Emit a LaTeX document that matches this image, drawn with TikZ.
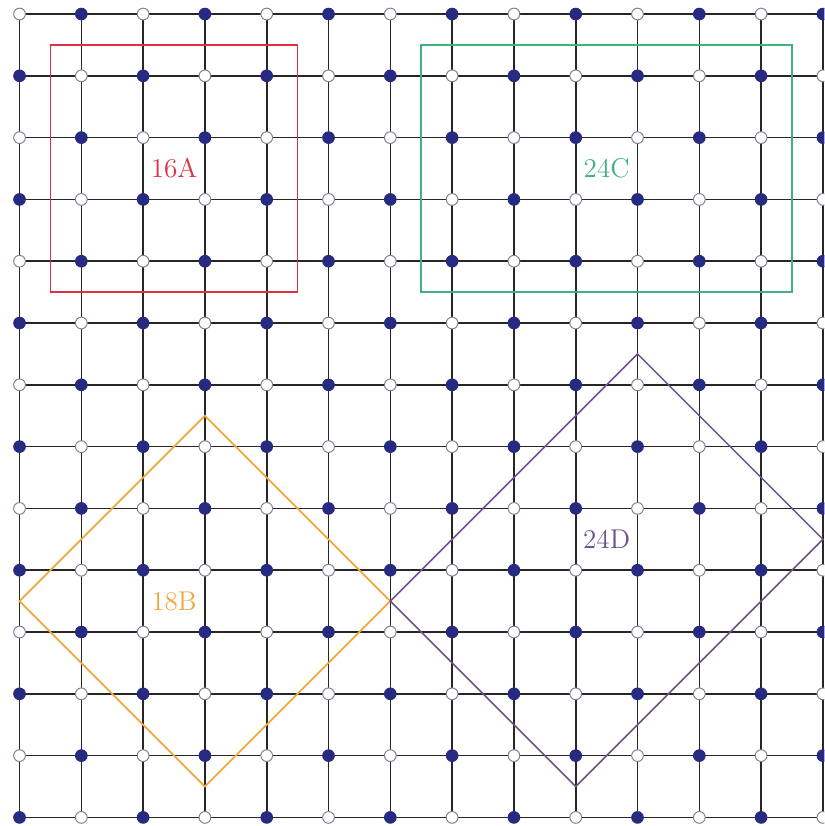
\documentclass[tikz,border=0pt]{standalone}
\usepackage{tikz}
\usepackage{xcolor}

\definecolor{navy}{RGB}{38,42,128}
\definecolor{ringgray}{RGB}{125,128,150}
\definecolor{cred}{RGB}{222,48,68}
\definecolor{cgreen}{RGB}{64,178,128}
\definecolor{corange}{RGB}{238,168,64}
\definecolor{cpurple}{RGB}{108,82,138}

\begin{document}
\begin{tikzpicture}[x=1cm, y=-1cm, font=\fontsize{12.5}{15}\selectfont,
  gridline/.style={black!85, line width=0.75pt},
  dot1/.style={circle, fill=navy, draw=navy, inner sep=0pt, minimum size=0.19cm},
  dot0/.style={circle, fill=white, draw=ringgray, line width=0.45pt, inner sep=0pt, minimum size=0.19cm}]
  \useasboundingbox (-0.316,-0.227) rectangle (13.023,13.139);
  \clip (-0.316,-0.227) rectangle (13.023,13.139);
  % lattice
  \foreach \k in {0,...,13} {
    \draw[gridline] (\k,0) -- (\k,13);
    \draw[gridline] (0,\k) -- (13,\k);
  }
  \foreach \i in {0,...,13} {
    \foreach \j in {0,...,13} {
      \pgfmathtruncatemacro{\odd}{mod(\i+\j,2)}
      \node[dot\odd] (v-\i-\j) at (\i,\j) {};
    }
  }
  % regions
  \draw[cred, line width=0.8pt] (0.5,0.5) rectangle (4.5,4.5);
  \node[text=cred] (lblA) at (2.5,2.5) {16A};
  \draw[cgreen, line width=1pt] (6.5,0.5) rectangle (12.5,4.5);
  \node[text=cgreen] (lblC) at (9.5,2.5) {24C};
  \draw[corange, line width=0.8pt] (3,6.5) -- (6,9.5) -- (3,12.5) -- (0,9.5) -- cycle;
  \node[text=corange] (lblB) at (2.5,9.5) {18B};
  \draw[cpurple, line width=0.7pt] (10,5.5) -- (13,8.5) -- (9,12.5) -- (6,9.5) -- cycle;
  \node[text=cpurple] (lblD) at (9.5,8.5) {24D};
\end{tikzpicture}
\end{document}
